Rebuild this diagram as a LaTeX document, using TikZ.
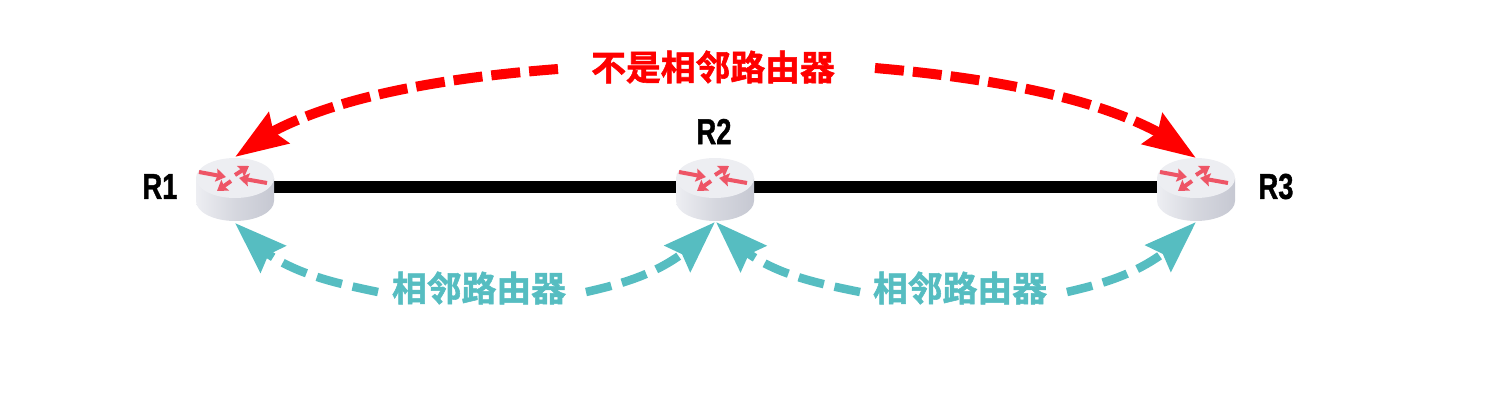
\documentclass[tikz,border=0pt]{standalone}
\usepackage{fontspec}
\usetikzlibrary{arrows.meta,bending}
\setmainfont{Liberation Sans}[BoldFeatures={FakeBold=1.2}]
\newfontfamily\cjkbold{Noto Sans CJK SC}[BoldFont={Noto Sans CJK SC Bold},BoldFeatures={FakeBold=1.6}]
\definecolor{alarmred}{HTML}{FF0000}
\definecolor{peerteal}{HTML}{56BDC1}
\definecolor{routerarrow}{HTML}{EE5566}
\definecolor{routerside}{HTML}{C6C8D2}
\definecolor{routerlight}{HTML}{EDEEF2}
\tikzset{
  x=1pt,y=-1pt,
  routerbox/.style={minimum width=78pt,minimum height=63pt,inner sep=0pt,outer sep=0pt},
  linkline/.style={line width=11.5pt,black},
  redlink/.style={line width=10pt,alarmred,dash pattern=on 29pt off 9pt,
    -{Stealth[length=52pt,width=36pt,inset=6pt,flex=1]}},
  teallink/.style={line width=8.5pt,peerteal,dash pattern=on 26pt off 11pt,
    -{Stealth[length=52pt,width=36pt,inset=6pt,flex=1]}},
  redlabel/.style={text=alarmred,font=\cjkbold\bfseries\fontsize{34.8}{36}\selectfont,inner sep=0pt},
  teallabel/.style={text=peerteal,font=\cjkbold\bfseries\fontsize{34.8}{36}\selectfont,inner sep=0pt},
  routername/.style={font=\bfseries\fontsize{36}{38}\selectfont,xscale=.76,inner sep=0pt},
  miniarrow/.style={line width=4pt,routerarrow,-{Stealth[length=10pt,width=13pt,inset=1.5pt]}},
}
% Router drawing: cylinder body, lit top face and four small arrows
\newcommand{\routerdraw}[1]{%
  \begin{scope}[shift={(#1.center)}]
    \shade[left color=routerlight,right color=routerside,middle color=routerside!60!routerlight]
      (-39,-11.5) -- (-39,11.5) arc[start angle=180,end angle=0,x radius=39,y radius=20]
      -- (39,-11.5) -- cycle;
    \fill[routerlight] (0,-11.5) ellipse[x radius=39,y radius=20];
    \draw[miniarrow] (-36,-17.5) -- (-9,-12.5);
    \draw[miniarrow] (32,-6.5) -- (4,-11.5);
    \draw[miniarrow] (0,-14.5) -- (14,-23.5);
    \draw[miniarrow] (-4,-8.5) -- (-18,1.5);
  \end{scope}%
}
\begin{document}
\begin{tikzpicture}
\useasboundingbox (0,0) rectangle (1496,404);
\node[routerbox] (r1) at (235,189.5) {};
\node[routerbox] (r2) at (715,189.5) {};
\node[routerbox] (r3) at (1196,189.5) {};
\draw[linkline] ([yshift=2.5pt]r1.center) -- ([yshift=2.5pt]r2.center);
\draw[linkline] ([yshift=2.5pt]r2.center) -- ([yshift=2.5pt]r3.center);
\routerdraw{r1}\routerdraw{r2}\routerdraw{r3}
\node[routername] (n1) at (160,186.5) {R1};
\node[routername] (n2) at (714,131.5) {R2};
\node[routername] (n3) at (1276,186.5) {R3};
\node[redlabel] (top) at (713,67) {不是相邻路由器};
\node[teallabel] (left) at (479,288) {相邻路由器};
\node[teallabel] (right) at (960,288) {相邻路由器};
\coordinate (topL) at (558,69);
\coordinate (topR) at (875,68);
\coordinate (leftL) at (378,292);
\coordinate (leftR) at (586,292);
\coordinate (rightL) at (860,292);
\coordinate (rightR) at (1067,292);
\coordinate (r1top) at (235,157);
\coordinate (r3top) at (1196,158);
\coordinate (r1bot) at (235,223);
\coordinate (r2botL) at (715,222);
\coordinate (r2botR) at (716,222);
\coordinate (r3bot) at (1196,222);
\draw[redlink] (topL) .. controls (440,78) and (300,100) .. (r1top);
\draw[redlink] (topR) .. controls (990,78) and (1130,100) .. (r3top);
\draw[teallink] (leftL) .. controls (320,280) and (270,268) .. (r1bot);
\draw[teallink] (leftR) .. controls (640,280) and (680,265) .. (r2botL);
\draw[teallink] (rightL) .. controls (800,280) and (750,268) .. (r2botR);
\draw[teallink] (rightR) .. controls (1120,280) and (1160,265) .. (r3bot);
\end{tikzpicture}
\end{document}
